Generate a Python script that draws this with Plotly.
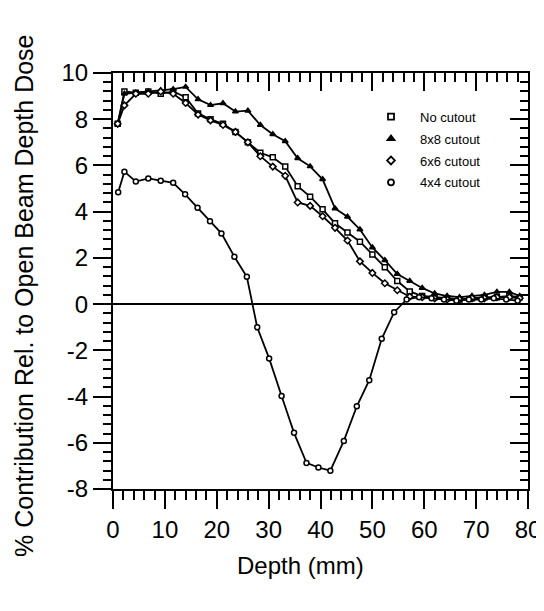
import plotly.graph_objects as go

# ---- data ----
depth = [0.9, 2.2, 4.4, 6.8, 9.2, 11.6, 14.0, 16.4, 18.8, 21.2, 23.6, 26.0, 28.4, 30.8,
         33.2, 35.6, 38.0, 40.4, 42.8, 45.2, 47.6, 50.0, 52.4, 54.8, 57.2, 59.6, 62.0,
         64.4, 66.8, 69.2, 71.6, 74.0, 76.4, 78.4]

no_cutout = [7.8, 9.2, 9.15, 9.2, 9.1, 9.2, 8.95, 8.25, 8.0, 7.8, 7.45, 7.0, 6.55, 6.35,
             5.95, 5.1, 4.65, 4.1, 3.5, 3.1, 2.7, 2.15, 1.6, 1.0, 0.55, 0.35, 0.3,
             0.25, 0.2, 0.25, 0.3, 0.3, 0.35, 0.3]

cut_8x8 = [7.8, 9.1, 9.15, 9.2, 9.25, 9.3, 9.4, 8.86, 8.61, 8.69, 8.33, 8.37, 7.75, 7.35,
           7.05, 6.31, 5.96, 5.4, 4.14, 3.78, 3.23, 2.45, 1.9, 1.3, 1.0, 0.7, 0.46,
           0.35, 0.3, 0.35, 0.4, 0.53, 0.53, 0.35]

cut_6x6 = [7.8, 8.6, 9.1, 9.1, 9.2, 9.1, 8.7, 8.2, 7.95, 7.75, 7.45, 7.0, 6.4, 5.95,
           5.55, 4.4, 4.25, 3.8, 3.3, 2.75, 1.85, 1.35, 0.9, 0.6, 0.32, 0.3, 0.25,
           0.2, 0.2, 0.25, 0.25, 0.3, 0.3, 0.25]

depth_4x4 = [1.0, 2.2, 4.4, 6.8, 9.2, 11.6, 13.9, 16.3, 18.7, 20.9, 23.4, 25.8, 27.8,
             30.1, 32.5, 34.9, 37.3, 39.6, 41.9, 44.5, 47.0, 49.4, 51.8, 54.2, 56.6,
             59.0, 61.4, 63.8, 66.2, 68.6, 71.0, 73.4, 75.8, 78.0]
cut_4x4 = [4.84, 5.73, 5.3, 5.44, 5.34, 5.25, 4.75, 4.17, 3.59, 3.06, 2.05, 1.18, -1.0,
           -2.35, -3.98, -5.57, -6.87, -7.07, -7.21, -5.92, -4.42, -3.29, -1.5, -0.35, 0.2,
           0.3, 0.25, 0.2, 0.15, 0.2, 0.2, 0.25, 0.2, 0.15]

x_ticks = [0, 10, 20, 30, 40, 50, 60, 70, 80]
y_ticks = [-8, -6, -4, -2, 0, 2, 4, 6, 8, 10]

series = [
    ("No cutout", depth, no_cutout, "square", "white"),
    ("8x8 cutout", depth, cut_8x8, "triangle-up", "black"),
    ("6x6 cutout", depth, cut_6x6, "diamond", "white"),
    ("4x4 cutout", depth_4x4, cut_4x4, "circle", "white"),
]

FONT = "Liberation Sans, Arial, sans-serif"

# page body has an 8px margin, so the figure is shifted by 8px; plot area = 113..528 x 73..489
PL, PR, PT, PB = 113, 528, 73, 489
PW, PH = PR - PL, PB - PT

fig = go.Figure()
for i, (name, xs, ys, sym, fill) in enumerate(series):
    on2 = (i == len(series) - 1)
    fig.add_trace(go.Scatter(
        x=xs, y=ys, mode="lines+markers", name=name, showlegend=False,
        xaxis="x2" if on2 else "x", yaxis="y2" if on2 else "y",
        line=dict(color="black", width=1.8),
        marker=dict(symbol=sym, size=5, color=fill, line=dict(color="black", width=1.5)),
    ))
for name, xs, ys, sym, fill in series:
    fig.add_trace(go.Scatter(
        x=[None], y=[None], mode="markers", name=name, showlegend=True,
        legendgroup=name,
        marker=dict(symbol=sym, size=6, color=fill, line=dict(color="black", width=1.8)),
    ))

axis_common = dict(showgrid=False, showline=True, linecolor="black", linewidth=2,
                   tickcolor="black", tickwidth=2, automargin=False)

fig.update_layout(
    width=536, height=603,
    margin=dict(l=PL - 8, r=536 - (PR - 8), t=PT - 8, b=603 - (PB - 8)),
    paper_bgcolor="white", plot_bgcolor="white",
    font=dict(family=FONT, color="black"),
    showlegend=True,
    legend=dict(x=0.6, y=0.931, xanchor="left", yanchor="top",
                bgcolor="rgba(0,0,0,0)", font=dict(size=13, family=FONT),
                itemwidth=48, tracegroupgap=2),
    xaxis=dict(range=[0, 80], tickvals=x_ticks, ticktext=[str(v) for v in x_ticks],
               ticks="outside", ticklen=18, zeroline=False,
               minor=dict(ticks="outside", ticklen=9, dtick=2, tickcolor="black", tickwidth=1.5),
               tickfont=dict(size=24, family=FONT),
               **axis_common),
    yaxis=dict(range=[-8, 10], tickvals=y_ticks, ticktext=[str(v) for v in y_ticks],
               ticks="outside", ticklen=18, zeroline=True, zerolinecolor="black",
               zerolinewidth=1.8,
               minor=dict(ticks="outside", ticklen=8, dtick=0.4, tickcolor="black", tickwidth=1.5),
               tickfont=dict(size=24, family=FONT),
               **axis_common),
    xaxis2=dict(range=[0, 80], overlaying="x", side="top", tickvals=x_ticks,
                showticklabels=False, ticks="inside", ticklen=18, zeroline=False,
                minor=dict(ticks="inside", ticklen=9, dtick=2, tickcolor="black", tickwidth=1.5),
                **axis_common),
    yaxis2=dict(range=[-8, 10], overlaying="y", side="right", tickvals=y_ticks,
                showticklabels=False, ticks="inside", ticklen=18, zeroline=False,
                minor=dict(ticks="inside", ticklen=8, dtick=0.4, tickcolor="black", tickwidth=1.5),
                **axis_common),
    annotations=[
        dict(text="Depth (mm)", xref="paper", yref="paper", x=(300 - PL) / PW,
             y=-(565 - PB) / PH, xanchor="center", yanchor="middle", showarrow=False,
             font=dict(size=24, family=FONT)),
        dict(text="% Contribution Rel. to Open Beam Depth Dose", xref="paper", yref="paper",
             x=-(PL - 24) / PW, y=(PB - 296) / PH, xanchor="center", yanchor="middle",
             textangle=-90, showarrow=False, borderpad=0, font=dict(size=25, family=FONT)),
    ],
)

fig.write_html("out.html")
